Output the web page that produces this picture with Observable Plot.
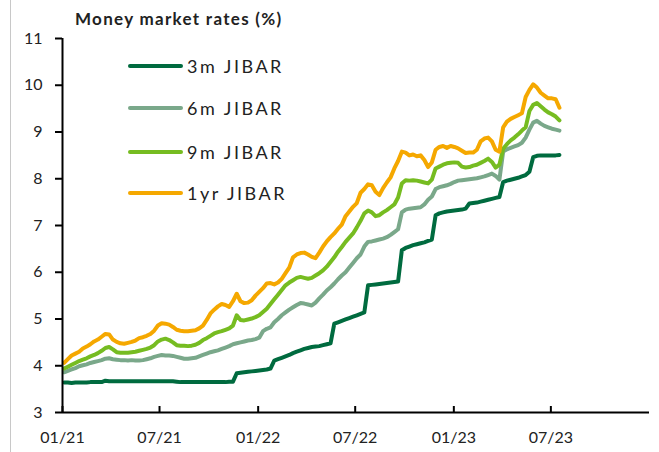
<!DOCTYPE html>
<html><head><meta charset="utf-8">
<script src="https://cdn.jsdelivr.net/npm/d3@7"></script>
<script src="https://cdn.jsdelivr.net/npm/@observablehq/plot@0.6"></script>
<style>
body{margin:0;background:#fff;}
#wrap{position:relative;width:659px;height:452px;overflow:hidden;font-family:Lato,sans-serif;color:#222;}
#border{position:absolute;left:10px;top:0;width:1px;height:452px;background:#c8c8c8;}
#title{position:absolute;left:75px;top:10px;font-size:17px;line-height:17px;font-weight:700;letter-spacing:1.3px;white-space:nowrap;}
#chart{position:absolute;left:0;top:0;}
.leg{position:absolute;left:128px;display:flex;align-items:center;height:20px;line-height:20px;font-size:18px;letter-spacing:2.5px;white-space:nowrap;}
.leg i{display:inline-block;width:55px;height:4px;border-radius:2px;margin-right:4px;}
</style></head><body>
<div id="wrap">
  <div id="border"></div>
  <div id="chart"></div>
  <div id="title">Money market rates (%)</div>
  <div id="legend"></div>
</div>
<script>
// weekly observations starting on this Monday
const firstWeek = "2021-01-04";

const jibar3m = [
  3.64,3.64,3.63,3.64,3.64,3.64,3.64,3.65,3.65,3.65,
  3.65,3.68,3.67,3.67,3.67,3.67,3.67,3.67,3.67,3.67,
  3.67,3.67,3.67,3.67,3.67,3.67,3.67,3.67,3.67,3.67,
  3.66,3.65,3.65,3.65,3.65,3.65,3.65,3.65,3.65,3.65,
  3.65,3.65,3.65,3.65,3.66,3.66,
  3.84,
  3.85,3.86,3.87,3.88,3.89,3.90,3.91,3.92,3.94,
  4.11,
  4.14,4.17,4.20,4.23,4.27,4.30,4.33,4.36,4.38,4.40,4.41,4.42,4.44,4.46,4.48,
  4.90,4.93,4.96,4.99,5.02,5.05,5.08,5.11,5.14,
  5.72,5.73,5.74,5.75,5.76,5.77,5.78,5.79,5.80,
  6.47,6.52,6.55,6.58,6.60,6.62,6.64,6.67,6.70,
  7.22,7.26,7.28,7.30,7.31,7.32,7.33,7.34,7.36,
  7.47,7.48,7.49,7.51,7.53,7.55,7.57,7.59,7.61,
  7.93,7.96,7.98,8.00,8.02,8.05,8.08,8.15,
  8.46,8.49,8.50,8.50,8.50,8.50,8.50,8.51
];

const jibar6m = [
  3.86,3.89,3.92,3.95,3.99,4.01,4.03,4.06,4.08,4.10,
  4.12,4.15,4.16,4.14,4.13,4.12,4.12,4.11,4.12,4.11,
  4.11,4.12,4.14,4.16,4.19,4.21,4.23,4.22,4.22,4.21,
  4.19,4.17,4.15,4.15,4.16,4.17,4.20,4.23,4.26,4.29,
  4.31,4.33,4.36,4.39,4.42,4.46,4.48,4.50,4.52,4.54,
  4.55,4.57,4.60,4.74,4.79,4.82,4.93,5.00,5.08,5.14,
  5.20,5.25,5.30,5.34,5.33,5.31,5.29,5.35,5.44,5.52,
  5.61,5.68,5.76,5.85,5.93,6.00,6.10,6.20,6.30,6.38,
  6.55,6.65,6.66,6.68,6.70,6.72,6.75,6.80,6.86,6.92,
  7.28,7.34,7.36,7.37,7.38,7.39,7.45,7.55,7.62,7.78,
  7.82,7.84,7.86,7.89,7.93,7.96,7.97,7.98,7.99,8.00,
  8.01,8.03,8.05,8.08,8.11,8.06,7.98,8.58,8.63,8.66,
  8.69,8.72,8.77,8.88,9.05,9.20,9.24,9.18,9.13,9.10,
  9.07,9.05,9.03
];

const jibar9m = [
  3.94,3.98,4.02,4.06,4.10,4.13,4.16,4.20,4.23,4.27,
  4.32,4.38,4.40,4.35,4.29,4.28,4.28,4.28,4.29,4.30,
  4.32,4.34,4.36,4.39,4.44,4.52,4.56,4.58,4.55,4.50,
  4.44,4.43,4.43,4.42,4.43,4.45,4.49,4.55,4.59,4.64,
  4.69,4.72,4.74,4.77,4.80,4.86,5.08,4.98,4.97,4.99,
  5.01,5.04,5.08,5.15,5.22,5.32,5.42,5.52,5.62,5.72,
  5.78,5.83,5.88,5.90,5.88,5.86,5.88,5.93,5.98,6.04,
  6.12,6.22,6.32,6.44,6.54,6.65,6.74,6.83,6.96,7.10,
  7.26,7.32,7.28,7.20,7.22,7.28,7.33,7.39,7.45,7.60,
  7.90,7.97,7.96,7.97,7.96,7.94,7.92,7.90,7.98,8.22,
  8.26,8.30,8.33,8.34,8.35,8.34,8.26,8.24,8.25,8.28,
  8.30,8.34,8.38,8.43,8.36,8.24,8.30,8.64,8.74,8.82,
  8.88,8.95,9.03,9.10,9.45,9.58,9.62,9.55,9.48,9.42,
  9.38,9.33,9.25
];

const jibar1y = [
  4.06,4.14,4.22,4.26,4.30,4.37,4.41,4.46,4.52,4.56,
  4.62,4.68,4.67,4.56,4.51,4.48,4.47,4.49,4.51,4.54,
  4.59,4.61,4.64,4.68,4.75,4.86,4.91,4.90,4.88,4.83,
  4.77,4.75,4.74,4.74,4.75,4.76,4.80,4.86,4.98,5.12,
  5.20,5.27,5.32,5.30,5.26,5.38,5.54,5.38,5.34,5.35,
  5.40,5.50,5.58,5.66,5.76,5.77,5.74,5.78,5.86,5.98,
  6.10,6.32,6.38,6.41,6.42,6.38,6.33,6.30,6.42,6.55,
  6.66,6.75,6.83,6.93,7.02,7.20,7.30,7.40,7.48,7.70,
  7.78,7.88,7.86,7.72,7.65,7.80,7.92,8.03,8.22,8.38,
  8.58,8.56,8.50,8.52,8.48,8.50,8.40,8.25,8.35,8.62,
  8.68,8.70,8.66,8.70,8.68,8.65,8.60,8.55,8.56,8.56,
  8.62,8.80,8.86,8.88,8.80,8.62,8.58,9.10,9.22,9.28,
  9.32,9.36,9.40,9.75,9.90,10.02,9.95,9.84,9.78,9.72,
  9.72,9.70,9.52
];

const seriesNames = ["3m JIBAR", "6m JIBAR", "9m JIBAR", "1yr JIBAR"];
const seriesColors = ["#006b3f", "#7aa88a", "#76bc21", "#f5a800"];
const xTickDates = ["2021-01-01", "2021-07-01", "2022-01-01", "2022-07-01", "2023-01-01", "2023-07-01"];
const yTicks = [3, 4, 5, 6, 7, 8, 9, 10, 11];
const xDomain = ["2021-01-01", "2024-01-01"];
const yDomain = [3, 11];

const seriesValues = [jibar3m, jibar6m, jibar9m, jibar1y];
const start = new Date(firstWeek);
const rows = [];
seriesValues.forEach((vals, s) => {
  vals.forEach((v, i) => rows.push({date: d3.utcDay.offset(start, 7 * i), value: v, series: seriesNames[s]}));
});
const xTicks = xTickDates.map(d => new Date(d));

const chart = Plot.plot({
  width: 659, height: 452,
  marginLeft: 62, marginRight: 10, marginTop: 38, marginBottom: 40,
  x: {type: "utc", domain: xDomain.map(d => new Date(d))},
  y: {domain: yDomain},
  color: {domain: seriesNames, range: seriesColors},
  style: {fontFamily: "Lato, sans-serif", fontSize: "16px", color: "#222", background: "transparent", overflow: "visible"},
  marks: [
    Plot.line(rows, {x: "date", y: "value", z: "series", stroke: "series", strokeWidth: 4, strokeLinejoin: "round", strokeLinecap: "round"}),
    Plot.ruleY([yDomain[0]], {stroke: "#000", strokeWidth: 2}),
    Plot.ruleX([new Date(xDomain[0])], {stroke: "#000", strokeWidth: 2}),
    Plot.ruleX(xTicks, {y1: yDomain[0], y2: yDomain[0], insetTop: -6, stroke: "#000", strokeWidth: 2}),
    Plot.axisY({ticks: yTicks, tickSize: 7, tickPadding: 13, tickFormat: d => String(d), stroke: "#000", strokeWidth: 2, fontSize: 16, label: null}),
    Plot.axisX({ticks: xTicks, tickSize: 0, tickPadding: 19, tickFormat: d3.utcFormat("%m/%y"), fontSize: 16, label: null})
  ]
});
document.getElementById("chart").appendChild(chart);

const legendTops = [56, 98, 142, 183];
const legend = document.getElementById("legend");
seriesNames.forEach((name, k) => {
  const row = document.createElement("div");
  row.className = "leg";
  row.style.top = legendTops[k] + "px";
  row.innerHTML = `<i style="background:${seriesColors[k]}"></i><span>${name}</span>`;
  legend.appendChild(row);
});
</script>
</body></html>
